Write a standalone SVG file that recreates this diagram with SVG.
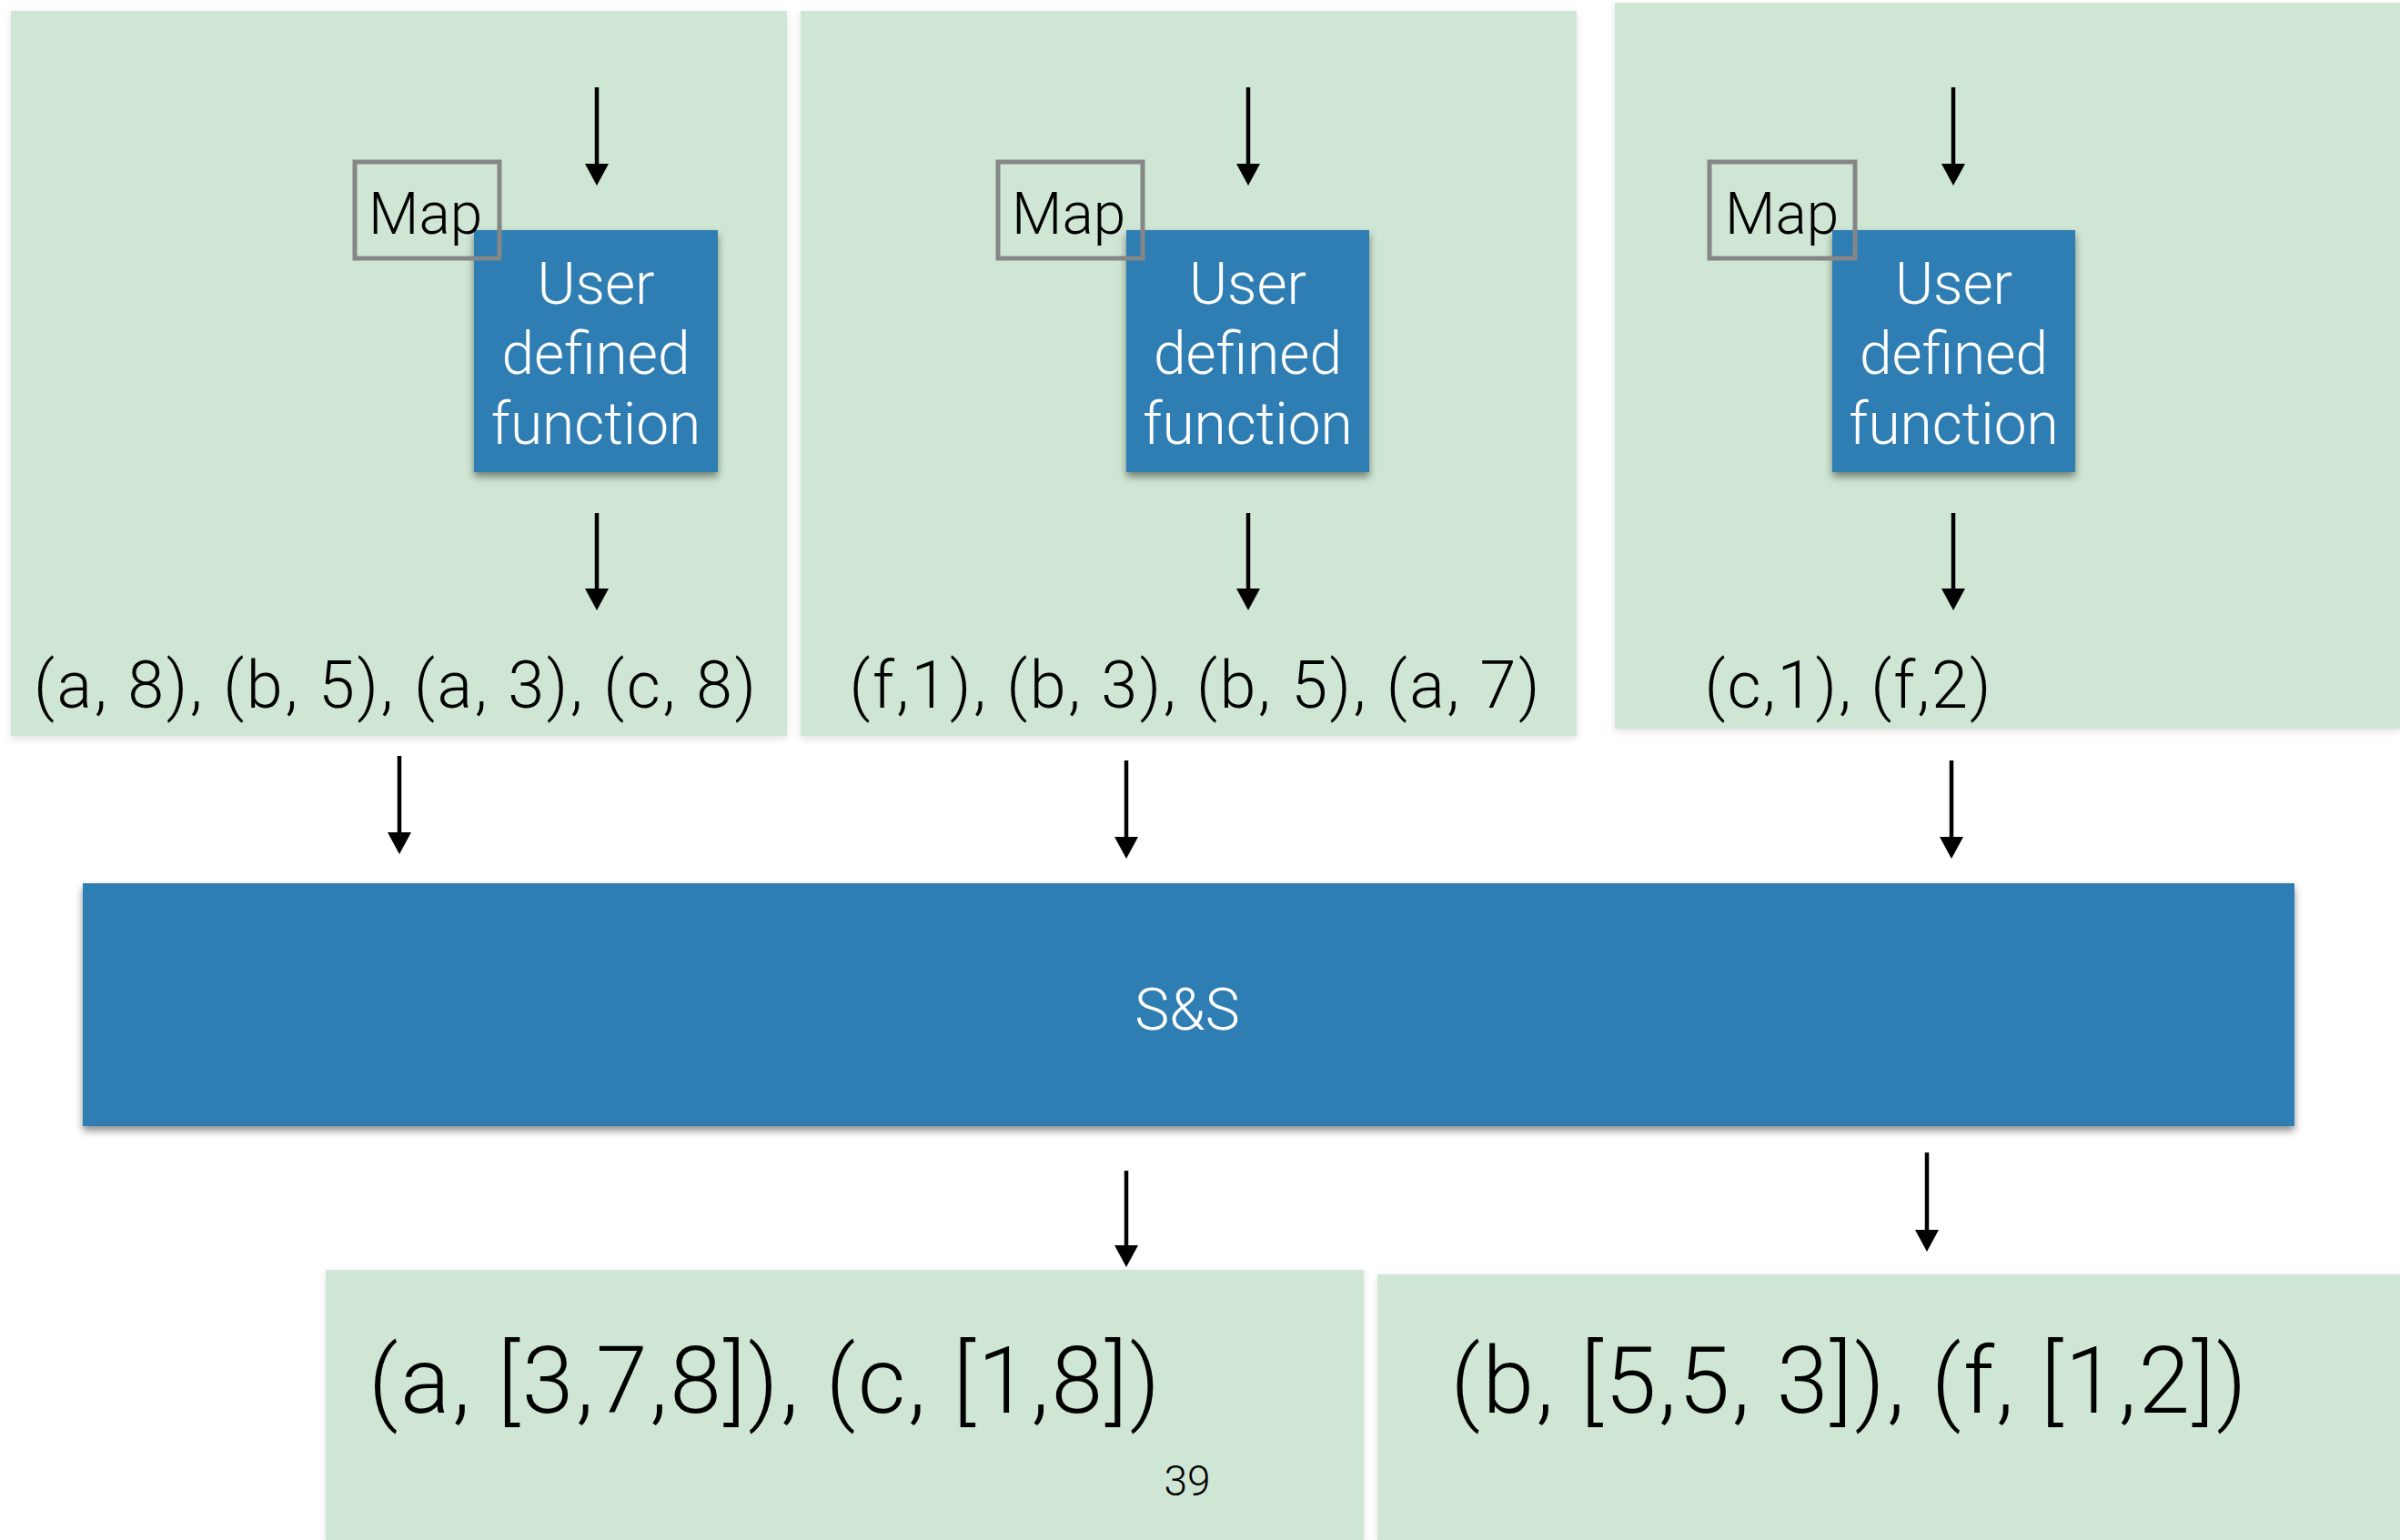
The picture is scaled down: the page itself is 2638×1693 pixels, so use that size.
<svg xmlns="http://www.w3.org/2000/svg" width="2638" height="1693" viewBox="0 0 2638 1693">
<defs>
<style>
.panel{fill:#cee6d3;}
.blue{fill:#2e7db3;filter:url(#sh);}
.mapbox{fill:none;stroke:#868686;stroke-width:5;}
.t{font-family:Roboto,"Liberation Sans",sans-serif;font-weight:300;fill:#000;}
.w{font-family:Roboto,"Liberation Sans",sans-serif;font-weight:300;fill:#fff;text-anchor:middle;}
.conn{stroke:#000;stroke-width:4.5;fill:none;marker-end:url(#ah);}
</style>
<filter id="sh" x="-10%" y="-10%" width="120%" height="130%">
<feDropShadow dx="0" dy="5" stdDeviation="4" flood-color="#000" flood-opacity="0.45"/>
</filter>
<filter id="psh" x="-5%" y="-5%" width="110%" height="110%">
<feDropShadow dx="0" dy="3" stdDeviation="4" flood-color="#000" flood-opacity="0.12"/>
</filter>
<marker id="ah" markerUnits="userSpaceOnUse" markerWidth="26" markerHeight="26" viewBox="0 0 24 26" refX="12" refY="13" orient="auto">
<path d="M0,0 L24,13 L0,26 z" fill="#000"/>
</marker>
</defs>
<rect width="2638" height="1693" fill="#fff"/>

<g id="map-panel-1">
<rect class="panel" x="12" y="12" width="853" height="797" filter="url(#psh)"/>
<text class="t" x="434" y="778" font-size="72" text-anchor="middle" textLength="794" lengthAdjust="spacing">(a, 8), (b, 5), (a, 3), (c, 8)</text>
</g>
<g id="map-panel-2">
<rect class="panel" x="880" y="12" width="853" height="797" filter="url(#psh)"/>
<text class="t" x="1313" y="778" font-size="72" text-anchor="middle" textLength="759" lengthAdjust="spacing">(f,1), (b, 3), (b, 5), (a, 7)</text>
</g>
<g id="map-panel-3">
<rect class="panel" x="1775" y="3" width="863" height="798" filter="url(#psh)"/>
<text class="t" x="2031" y="778" font-size="72" text-anchor="middle" textLength="315" lengthAdjust="spacing">(c,1), (f,2)</text>
</g>

<g id="udf-1">
<rect class="blue" x="521" y="253" width="268" height="266"/>
<text class="w" font-size="64"><tspan x="655" y="334">User</tspan><tspan x="655" y="411">defined</tspan><tspan x="655" y="488">function</tspan></text>
</g>
<g id="udf-2">
<rect class="blue" x="1238" y="253" width="267" height="266"/>
<text class="w" font-size="64"><tspan x="1371.5" y="334">User</tspan><tspan x="1371.5" y="411">defined</tspan><tspan x="1371.5" y="488">function</tspan></text>
</g>
<g id="udf-3">
<rect class="blue" x="2014" y="253" width="267" height="266"/>
<text class="w" font-size="64"><tspan x="2147.5" y="334">User</tspan><tspan x="2147.5" y="411">defined</tspan><tspan x="2147.5" y="488">function</tspan></text>
</g>

<g id="map-label-1">
<rect class="mapbox" x="390" y="178" width="159" height="106"/>
<text class="t" x="405" y="257" font-size="64">Map</text>
</g>
<g id="map-label-2">
<rect class="mapbox" x="1097" y="178" width="159" height="106"/>
<text class="t" x="1112" y="257" font-size="64">Map</text>
</g>
<g id="map-label-3">
<rect class="mapbox" x="1879" y="178" width="160" height="106"/>
<text class="t" x="1896" y="257" font-size="64">Map</text>
</g>

<g id="shuffle-sort">
<rect class="blue" x="91" y="971" width="2431" height="267"/>
<text class="w" x="1305" y="1132" font-size="64">S&amp;S</text>
</g>

<g id="reduce-input-1">
<rect class="panel" x="358" y="1396" width="1141" height="297" filter="url(#psh)"/>
<text class="t" x="840" y="1553" font-size="102" text-anchor="middle" textLength="870" lengthAdjust="spacing">(a, [3,7,8]), (c, [1,8])</text>
</g>
<g id="reduce-input-2">
<rect class="panel" x="1514" y="1401" width="1124" height="292" filter="url(#psh)"/>
<text class="t" x="2032" y="1553" font-size="102" text-anchor="middle" textLength="875" lengthAdjust="spacing">(b, [5,5, 3]), (f, [1,2])</text>
</g>

<g id="page-number">
<text class="t" x="1305" y="1644" font-size="46" text-anchor="middle">39</text>
</g>

<g id="connectors">
<line class="conn" x1="656" y1="96" x2="656" y2="192"/>
<line class="conn" x1="656" y1="564" x2="656" y2="659"/>
<line class="conn" x1="1372" y1="96" x2="1372" y2="192"/>
<line class="conn" x1="1372" y1="564" x2="1372" y2="659"/>
<line class="conn" x1="2147" y1="96" x2="2147" y2="192"/>
<line class="conn" x1="2147" y1="564" x2="2147" y2="659"/>
<line class="conn" x1="439" y1="831" x2="439" y2="927"/>
<line class="conn" x1="1238" y1="836" x2="1238" y2="932"/>
<line class="conn" x1="2145" y1="836" x2="2145" y2="932"/>
<line class="conn" x1="1238" y1="1287" x2="1238" y2="1381"/>
<line class="conn" x1="2118" y1="1267" x2="2118" y2="1364"/>
</g>
</svg>
